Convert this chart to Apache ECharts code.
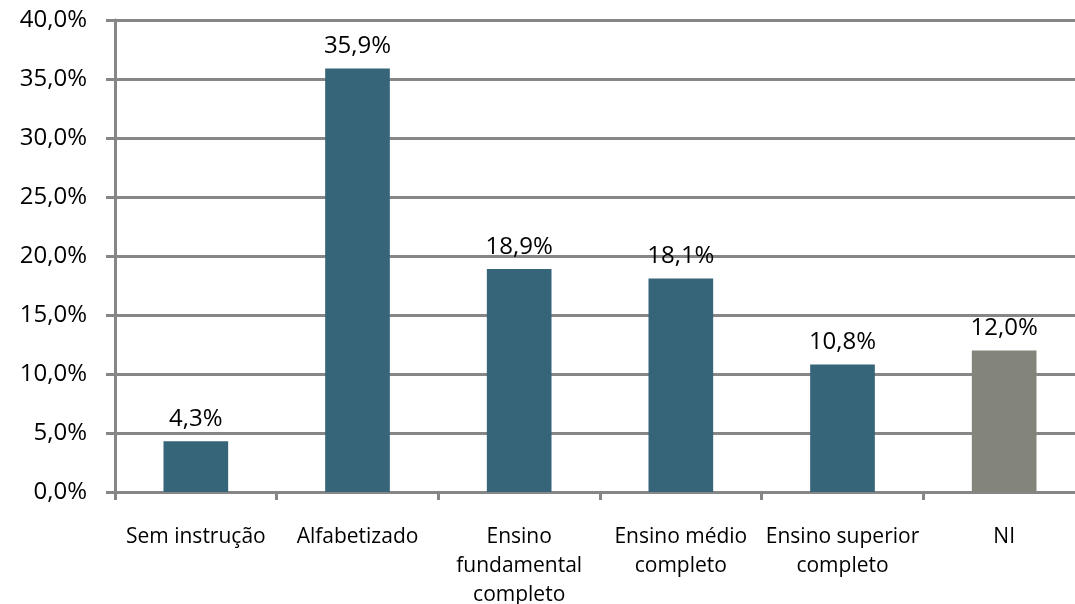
<!DOCTYPE html>
<html>
<head>
<meta charset="utf-8">
<script src="https://cdn.jsdelivr.net/npm/echarts@6/dist/echarts.min.js"></script>
<style>
  html, body { margin: 0; padding: 0; background: #fff; }
  #chart { width: 1075px; height: 604px; }
</style>
</head>
<body>
<div id="chart"></div>
<script>
// Escolaridade: percentual por nível de instrução
const categories = [
  'Sem instrução',
  'Alfabetizado',
  'Ensino\nfundamental\ncompleto',
  'Ensino médio\ncompleto',
  'Ensino superior\ncompleto',
  'NI'
];
const values = [4.3, 35.9, 18.9, 18.1, 10.8, 12.0];
const barColors = ['#366478', '#366478', '#366478', '#366478', '#366478', '#83847a'];

const FONT = '"Open Sans", Lato, sans-serif';
const fmt = v => v.toFixed(1).replace('.', ',') + '%';

const chart = echarts.init(document.getElementById('chart'), null, { renderer: 'canvas' });
chart.setOption({
  animation: false,
  backgroundColor: '#ffffff',
  grid: { left: 115, top: 20, right: -10, bottom: 112, containLabel: false, outerBoundsMode: 'none' },
  xAxis: {
    type: 'category',
    data: categories,
    boundaryGap: true,
    axisLine: { show: true, lineStyle: { color: '#868686', width: 3 } },
    axisTick: { show: true, alignWithLabel: false, length: 8, lineStyle: { color: '#868686', width: 3 } },
    axisLabel: {
      interval: 0,
      margin: 31,
      color: '#000',
      fontFamily: FONT,
      fontSize: 21,
      lineHeight: 29
    }
  },
  yAxis: {
    type: 'value',
    min: 0,
    max: 40,
    interval: 5,
    axisLine: { show: true, lineStyle: { color: '#868686', width: 3 } },
    axisTick: { show: true, inside: false, length: 9, lineStyle: { color: '#868686', width: 3 } },
    splitLine: { show: true, lineStyle: { color: '#868686', width: 3 } },
    axisLabel: {
      margin: 28,
      color: '#000',
      fontFamily: FONT,
      fontSize: 24,
      formatter: v => fmt(v)
    }
  },
  series: [{
    type: 'bar',
    barWidth: '40%',
    data: values.map((v, i) => ({ value: v, itemStyle: { color: barColors[i] } })),
    label: {
      show: true,
      position: 'top',
      distance: 10,
      color: '#000',
      fontFamily: FONT,
      fontSize: 24,
      formatter: p => fmt(p.value)
    }
  }]
});
</script>
</body>
</html>
